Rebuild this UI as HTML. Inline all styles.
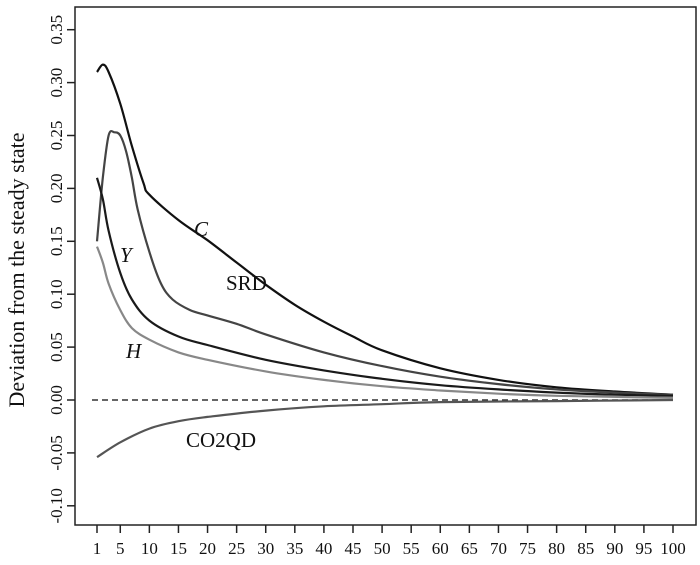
<!DOCTYPE html>
<html><head><meta charset="utf-8"><style>
body{margin:0;background:#fff}
svg text{font-family:"Liberation Serif",serif;fill:#111}
</style></head><body>
<svg id="chart" width="700" height="560" xmlns="http://www.w3.org/2000/svg">
<rect x="75" y="7" width="621" height="518" fill="none" stroke="#222" stroke-width="1.5"/>
<text x="0" y="0" font-size="22" text-anchor="middle" transform="translate(24,270) rotate(-90)">Deviation from the steady state</text>
<g id="axes"></g>
<g id="series"></g>
<text x="194" y="236" font-size="21" font-style="italic">C</text>
<text x="120" y="262" font-size="21" font-style="italic">Y</text>
<text x="226" y="290" font-size="21">SRD</text>
<text x="126" y="358" font-size="21" font-style="italic">H</text>
<text x="186" y="447" font-size="21">CO2QD</text>
</svg>
<script>
const xTicks=[1,5,10,15,20,25,30,35,40,45,50,55,60,65,70,75,80,85,90,95,100];
const yTicks=[-0.10,-0.05,0,0.05,0.10,0.15,0.20,0.25,0.30,0.35];
const tC=[1,2,3,5,7,9,10,15,20,25,30,35,40,45,50,60,70,80,90,100];
const vC=[0.31,0.317,0.31,0.28,0.24,0.205,0.194,0.17,0.151,0.13,0.109,0.09,0.074,0.06,0.047,0.03,0.019,0.012,0.008,0.005];
const tSRD=[1,2,3,4,5,6,7,8,10,12,14,17,20,25,30,40,50,60,70,80,90,100];
const vSRD=[0.15,0.21,0.25,0.253,0.25,0.235,0.21,0.18,0.14,0.11,0.095,0.085,0.08,0.072,0.062,0.045,0.032,0.022,0.015,0.01,0.007,0.005];
const tY=[1,2,3,5,7,10,15,20,30,40,50,60,70,80,90,100];
const vY=[0.21,0.19,0.16,0.12,0.095,0.075,0.06,0.052,0.038,0.028,0.02,0.014,0.01,0.007,0.005,0.004];
const tH=[1,2,3,5,7,10,15,20,30,40,50,60,70,80,100];
const vH=[0.145,0.13,0.11,0.085,0.068,0.057,0.045,0.038,0.027,0.019,0.013,0.009,0.006,0.004,0.002];
const tCO=[1,5,10,15,20,30,40,50,60,80,100];
const vCO=[-0.054,-0.04,-0.027,-0.02,-0.016,-0.01,-0.006,-0.004,-0.002,-0.001,0];
const NS="http://www.w3.org/2000/svg";
const xs=t=>97+(t-1)*(576/99);
const ys=v=>400-v*1058;
const axes=document.getElementById('axes'),ser=document.getElementById('series');
function mk(tag,attrs,parent){const e=document.createElementNS(NS,tag);for(const k in attrs)e.setAttribute(k,attrs[k]);parent.appendChild(e);return e;}
xTicks.forEach(t=>{
 const l=mk('line',{x1:xs(t),x2:xs(t),y1:525,y2:533,stroke:'#222','stroke-width':1.5},axes);
 
 
 const tx=mk('text',{x:xs(t),y:554,'font-size':17,'text-anchor':'middle'},axes);
 tx.textContent=t;
 
 
});
yTicks.forEach(v=>{
 const y=ys(v);
 const l=mk('line',{x1:67,x2:75,y1:y,y2:y,stroke:'#222','stroke-width':1.5},axes);
 
 
 const tx=mk('text',{x:0,y:0,'font-size':17,'text-anchor':'middle',transform:`translate(62,${y}) rotate(-90)`},axes);
 tx.textContent=v.toFixed(2);
 
 
});
const zl=mk('line',{x1:xs(1)-5,x2:xs(100),y1:ys(0),y2:ys(0),stroke:'#333','stroke-width':1.5,'stroke-dasharray':'6,4'},ser);


function line(ts,vs,color,name){
 const P=ts.map((t,i)=>[xs(t),ys(vs[i])]);
 let d='M'+P[0][0].toFixed(1)+','+P[0][1].toFixed(1);
 for(let i=0;i<P.length-1;i++){
  const p0=P[Math.max(0,i-1)],p1=P[i],p2=P[i+1],p3=P[Math.min(P.length-1,i+2)];
  const c1=[p1[0]+(p2[0]-p0[0])/6,p1[1]+(p2[1]-p0[1])/6];
  const c2=[p2[0]-(p3[0]-p1[0])/6,p2[1]-(p3[1]-p1[1])/6];
  d+=` C${c1[0].toFixed(1)},${c1[1].toFixed(1)} ${c2[0].toFixed(1)},${c2[1].toFixed(1)} ${p2[0].toFixed(1)},${p2[1].toFixed(1)}`;
 }
 const p=mk('path',{d:d,fill:'none',stroke:color,'stroke-width':2.2,'stroke-linejoin':'round'},ser);
 
 
}
line(tC,vC,'#111','series-c');
line(tSRD,vSRD,'#444','series-srd');
line(tY,vY,'#1a1a1a','series-y');
line(tH,vH,'#888','series-h');
line(tCO,vCO,'#555','series-co2qd');
</script>
</body></html>
